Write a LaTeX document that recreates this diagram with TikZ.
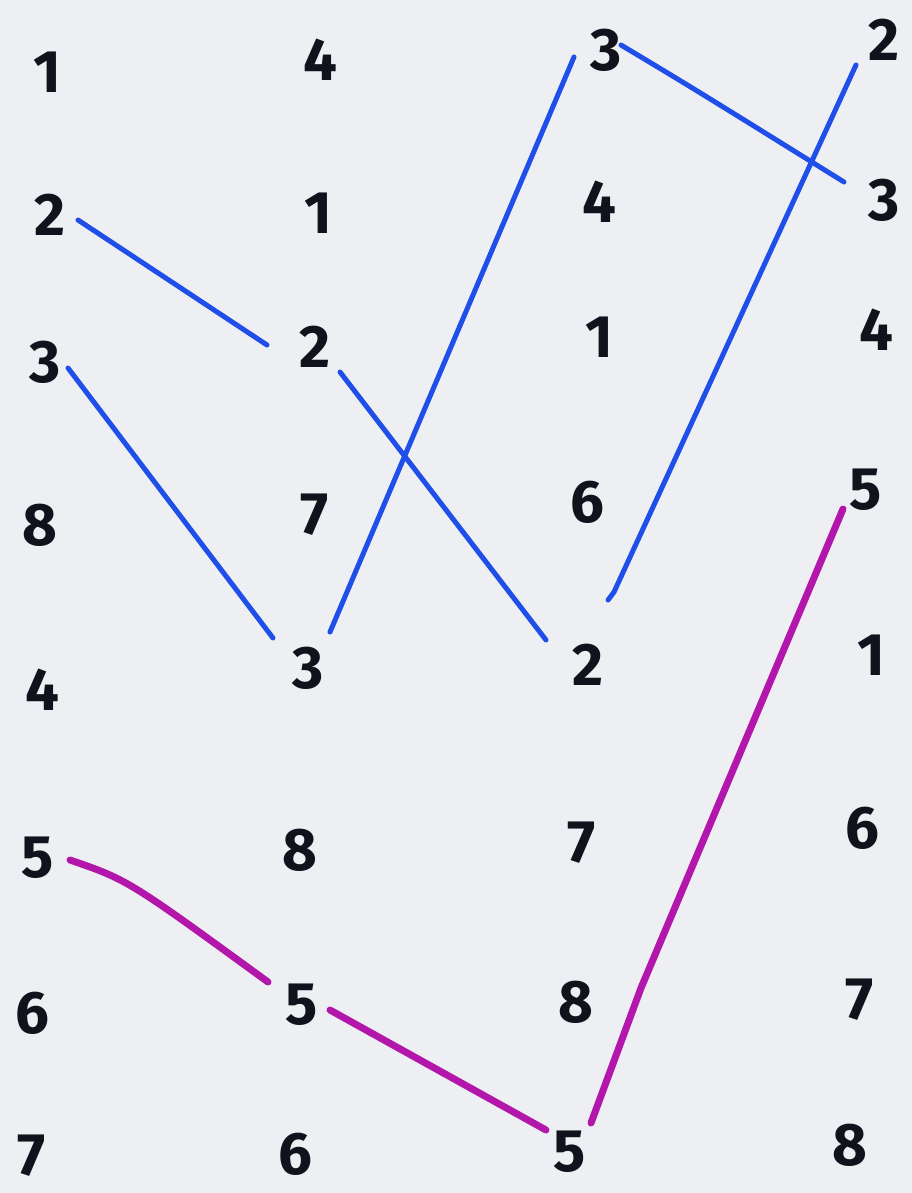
\documentclass[tikz,border=0pt]{standalone}
\usepackage{fontspec}
\setmainfont{Fira Sans}
\usetikzlibrary{calc}
\definecolor{paper}{RGB}{238,239,243}
\definecolor{ink}{RGB}{18,18,28}
\definecolor{bluepen}{RGB}{32,78,232}
\definecolor{magpen}{RGB}{178,22,170}
\tikzset{
  num/.style={inner sep=0pt, text=ink, font=\fontsize{60}{60}\selectfont\bfseries},
  blueline/.style={draw=bluepen, line width=5pt, line cap=round, line join=round},
  magline/.style={draw=magpen, line width=7pt, line cap=round, line join=round}
}
\begin{document}
\begin{tikzpicture}[x=1pt,y=-1pt]
\fill[paper] (0,0) rectangle (912,1193);
\useasboundingbox (0,0) rectangle (912,1193);
% column 1
\node[num] (a1) at (47,72) {1};
\node[num] (a2) at (50,215) {2};
\node[num] (a3) at (45,362) {3};
\node[num] (a8) at (40,525) {8};
\node[num] (a4) at (42,690) {4};
\node[num] (a5) at (38,858) {5};
\node[num] (a6) at (32,1013) {6};
\node[num] (a7) at (32,1156) {7};
% column 2
\node[num] (b4) at (320,60) {4};
\node[num] (b1) at (318,213) {1};
\node[num] (b2) at (315,347) {2};
\node[num] (b7) at (315,515) {7};
\node[num] (b3) at (308,668) {3};
\node[num] (b8) at (300,850) {8};
\node[num] (b5) at (302,1005) {5};
\node[num] (b6) at (295,1154) {6};
% column 3
\node[num] (c3) at (606,50) {3};
\node[num] (c4) at (599,202) {4};
\node[num] (c1) at (599,337) {1};
\node[num] (c6) at (587,502) {6};
\node[num] (c2) at (588,665) {2};
\node[num] (c7) at (582,843) {7};
\node[num] (c8) at (576,1002) {8};
\node[num] (c5) at (570,1152) {5};
% column 4
\node[num] (d2) at (884,40) {2};
\node[num] (d3) at (884,200) {3};
\node[num] (d4) at (876,330) {4};
\node[num] (d5) at (866,490) {5};
\node[num] (d1) at (871,655) {1};
\node[num] (d6) at (862,828) {6};
\node[num] (d7) at (860,1000) {7};
\node[num] (d8) at (850,1145) {8};
% blue connectors
\draw[blueline] ($(a2)+(28,5)$) -- ($(b2)+(-48,-2)$);
\draw[blueline] ($(a3)+(23,6)$) -- ($(b3)+(-35,-30)$);
\draw[blueline] ($(b2)+(25,25)$) -- ($(c2)+(-42,-25)$);
\draw[blueline] ($(b3)+(22,-36)$) -- ($(c3)+(-32,7)$);
\draw[blueline] ($(c3)+(15,-5)$) .. controls ($(c3)+(90,40)$) .. ($(d3)+(-40,-18)$);
\draw[blueline] ($(c2)+(20,-65)$) -- ($(c2)+(26,-73)$) -- ($(d2)+(-28,25)$);
% magenta connectors
\draw[magline] ($(a5)+(32,2)$) .. controls ($(a5)+(90,22)$) .. ($(b5)+(-34,-23)$);
\draw[magline] ($(b5)+(28,5)$) -- ($(c5)+(-24,-22)$);
\draw[magline] ($(c5)+(21,-29)$) -- ($(c5)+(71,-164)$) -- ($(d5)+(-23,19)$);
\end{tikzpicture}
\end{document}
